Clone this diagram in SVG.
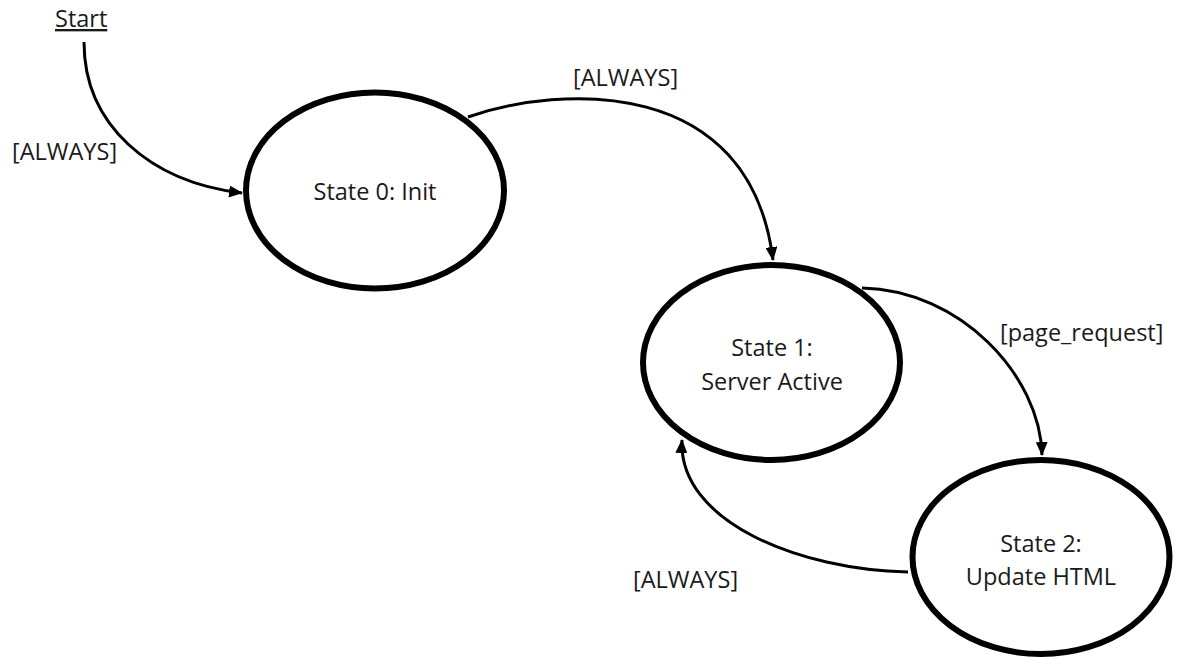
<svg xmlns="http://www.w3.org/2000/svg" width="1177" height="658" viewBox="0 0 1177 658">
  <style>
    .node { fill: #ffffff; stroke: #000000; stroke-width: 6; }
    .lbl { font-family: "Open Sans", "Liberation Sans", sans-serif; font-size: 23.5px; fill: #1a1a1a; }
    .mid { text-anchor: middle; }
    .edge { fill: none; stroke: #000000; stroke-width: 3; marker-end: url(#arrow); }
  </style>
  <defs>
    <marker id="arrow" markerUnits="userSpaceOnUse" markerWidth="14" markerHeight="12" refX="13" refY="6" orient="auto">
      <path d="M0,0 L14,6 L0,12 Z" fill="#000000"/>
    </marker>
  </defs>
  <rect width="1177" height="658" fill="#ffffff"/>

  <g id="connectors">
    <path class="edge" d="M84,42 C84,125 150,182 242,193"/>
    <path class="edge" d="M468,117 C560,85 750,75 773,260"/>
    <path class="edge" d="M862,288 C960,290 1040,375 1042,455"/>
    <path class="edge" d="M908,572 C800,570 678,522 682,440"/>
  </g>

  <g id="start">
    <text class="lbl" x="55" y="27" text-decoration="underline">Start</text>
  </g>

  <g id="state0">
    <ellipse class="node" cx="375" cy="190.5" rx="129" ry="98"/>
    <text class="lbl mid" x="375" y="200">State 0: Init</text>
  </g>

  <g id="state1">
    <ellipse class="node" cx="771.5" cy="362.5" rx="128.5" ry="97.5"/>
    <text class="lbl mid" x="772" y="356">State 1:</text>
    <text class="lbl mid" x="772" y="390">Server Active</text>
  </g>

  <g id="state2">
    <ellipse class="node" cx="1041" cy="557" rx="128.5" ry="97"/>
    <text class="lbl mid" x="1041" y="552">State 2:</text>
    <text class="lbl mid" x="1041" y="585">Update HTML</text>
  </g>

  <g id="labels">
    <text class="lbl" x="12" y="160">[ALWAYS]</text>
    <text class="lbl" x="573" y="86">[ALWAYS]</text>
    <text class="lbl" x="1000" y="341">[page_request]</text>
    <text class="lbl" x="633" y="588">[ALWAYS]</text>
  </g>
</svg>
